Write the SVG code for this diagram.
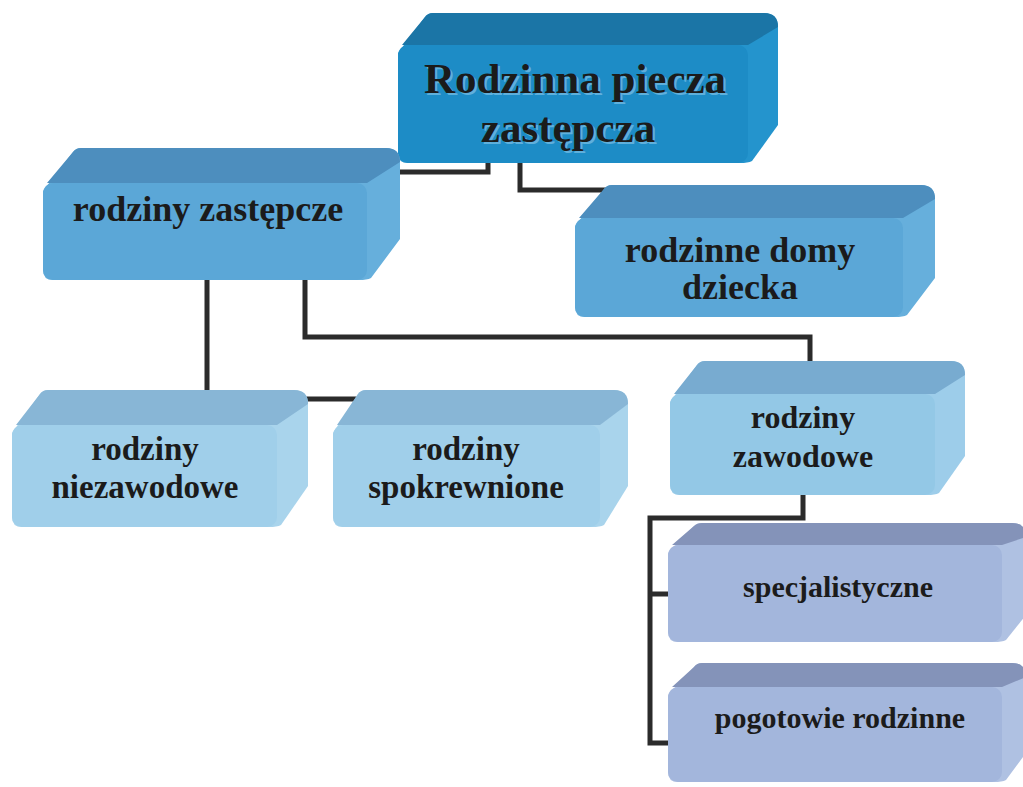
<svg xmlns="http://www.w3.org/2000/svg" width="1023" height="787" viewBox="0 0 1023 787">
<style>
.conn{fill:none;stroke:#2b2b2b;stroke-width:5;stroke-linejoin:miter}
.t{font-family:"Liberation Serif","Times New Roman",serif;font-weight:bold;fill:#1b1b1b;text-anchor:middle}
.sh{fill:#7cc0e6;opacity:0.7}
.b1 .side{fill:#2494cd}.b1 .top{fill:#1b75a6}.b1 .front{fill:#1d8cc6}
.b2 .side{fill:#66afdc}.b2 .top{fill:#4d8ebe}.b2 .front{fill:#5ba7d7}
.b3 .side{fill:#a9d4ec}.b3 .top{fill:#88b6d6}.b3 .front{fill:#a0cfea}
.b4 .side{fill:#9dcdea}.b4 .top{fill:#78abd0}.b4 .front{fill:#93c8e6}
.b5 .side{fill:#afc1e2}.b5 .top{fill:#8493b9}.b5 .front{fill:#a3b6dc}
</style>
<rect width="1023" height="787" fill="#ffffff"/>
<g id="connectors">
<path class="conn" d="M488,160 V172 H398"/>
<path class="conn" d="M520,160 V190 H612"/>
<path class="conn" d="M207,278 V399 H365"/>
<path class="conn" d="M305,278 V337 H810 V366"/>
<path class="conn" d="M803,493 V518 H650 V743 H672"/>
<path class="conn" d="M650,594 H672"/>
</g>
<g id="main" class="b1">
<path class="side" d="M398,53 L425,17 Q428,13 433,13 L764,13 Q778,13 778,27 L778,125 L752,161 Q748,163 740,163 L408,163 Q398,163 398,153 Z"/>
<path class="top" d="M402,45 L425,17 Q428,13 433,13 L764,13 Q778,13 778,27 L748,45 Z"/>
<rect class="front" x="398" y="45" width="350" height="118" rx="10"/>
<text class="t sh" x="577" y="95" font-size="43">Rodzinna piecza</text>
<text class="t sh" x="570" y="144" font-size="43">zastępcza</text>
<text class="t" x="575" y="93" font-size="43" fill="#1e2a33">Rodzinna piecza</text>
<text class="t" x="568" y="142" font-size="43" fill="#1e2a33">zastępcza</text>
</g>
<g id="zastepcze" class="b2">
<path class="side" d="M43,191 L73,152 Q76,148 81,148 L386,148 Q400,148 400,162 L400,239 L371,278 Q367,280 359,280 L53,280 Q43,280 43,270 Z"/>
<path class="top" d="M47,183 L73,152 Q76,148 81,148 L386,148 Q400,148 400,162 L367,183 Z"/>
<rect class="front" x="43" y="183" width="324" height="97" rx="10"/>
<text class="t" x="208" y="221" font-size="36">rodziny zastępcze</text>
</g>
<g id="domy" class="b2">
<path class="side" d="M575,226 L604,189 Q607,185 612,185 L921,185 Q935,185 935,199 L935,278 L907,315 Q903,317 895,317 L585,317 Q575,317 575,307 Z"/>
<path class="top" d="M579,218 L604,189 Q607,185 612,185 L921,185 Q935,185 935,199 L903,218 Z"/>
<rect class="front" x="575" y="218" width="328" height="99" rx="10"/>
<text class="t" x="740" y="262" font-size="36">rodzinne domy</text>
<text class="t" x="740" y="299" font-size="36">dziecka</text>
</g>
<g id="niezawodowe" class="b3">
<path class="side" d="M12,433 L40,394 Q43,390 48,390 L294,390 Q308,390 308,404 L308,486 L281,525 Q277,527 269,527 L22,527 Q12,527 12,517 Z"/>
<path class="top" d="M16,425 L40,394 Q43,390 48,390 L294,390 Q308,390 308,404 L277,425 Z"/>
<rect class="front" x="12" y="425" width="265" height="102" rx="10"/>
<text class="t" x="145" y="460" font-size="33">rodziny</text>
<text class="t" x="145" y="498" font-size="33">niezawodowe</text>
</g>
<g id="spokrewnione" class="b3">
<path class="side" d="M333,433 L358,394 Q361,390 366,390 L614,390 Q628,390 628,404 L628,486 L604,525 Q600,527 592,527 L343,527 Q333,527 333,517 Z"/>
<path class="top" d="M337,425 L358,394 Q361,390 366,390 L614,390 Q628,390 628,404 L600,425 Z"/>
<rect class="front" x="333" y="425" width="267" height="102" rx="10"/>
<text class="t" x="466" y="460" font-size="33">rodziny</text>
<text class="t" x="466" y="498" font-size="33">spokrewnione</text>
</g>
<g id="zawodowe" class="b4">
<path class="side" d="M670,402 L697,365 Q700,361 705,361 L951,361 Q965,361 965,375 L965,456 L939,493 Q935,495 927,495 L680,495 Q670,495 670,485 Z"/>
<path class="top" d="M674,394 L697,365 Q700,361 705,361 L951,361 Q965,361 965,375 L935,394 Z"/>
<rect class="front" x="670" y="394" width="265" height="101" rx="10"/>
<text class="t" x="803" y="428" font-size="32">rodziny</text>
<text class="t" x="803" y="467" font-size="32">zawodowe</text>
</g>
<g id="specjalistyczne" class="b5">
<path class="side" d="M668,553 L694,526 Q697,523 702,523 L1012,523 Q1026,523 1026,537 L1026,615 L1006,640 Q1002,642 994,642 L678,642 Q668,642 668,632 Z"/>
<path class="top" d="M672,545 L694,526 Q697,523 702,523 L1012,523 Q1026,523 1026,537 L1002,545 Z"/>
<rect class="front" x="668" y="545" width="334" height="97" rx="10"/>
<text class="t" x="838" y="597" font-size="30">specjalistyczne</text>
</g>
<g id="pogotowie" class="b5">
<path class="side" d="M668,695 L694,667 Q697,663 702,663 L1012,663 Q1026,663 1026,677 L1026,753 L1006,780 Q1002,782 994,782 L678,782 Q668,782 668,772 Z"/>
<path class="top" d="M672,687 L694,667 Q697,663 702,663 L1012,663 Q1026,663 1026,677 L1002,687 Z"/>
<rect class="front" x="668" y="687" width="334" height="95" rx="10"/>
<text class="t" x="840" y="728" font-size="30">pogotowie rodzinne</text>
</g>
</svg>
